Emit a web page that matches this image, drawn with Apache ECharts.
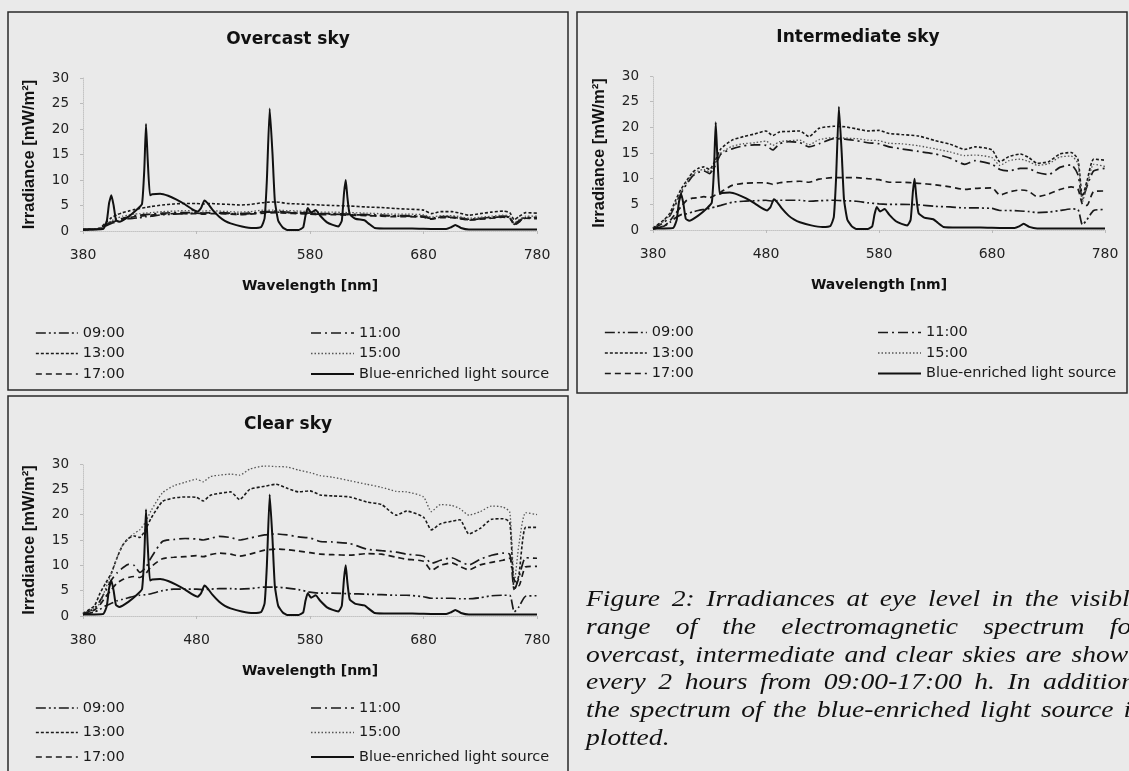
<!DOCTYPE html>
<html>
<head>
<meta charset="utf-8">
<script src="https://cdn.jsdelivr.net/npm/echarts/dist/echarts.min.js"></script>
<style>
html,body{margin:0;padding:0;background:#eaeaea;}
#c{width:1129px;height:771px;}
</style>
</head>
<body>
<div id="c"></div>
<script>
// ---------------- DATA ----------------
const panelTitles = ['Overcast sky', 'Intermediate sky', 'Clear sky'];
const seriesNames = ['09:00', '11:00', '13:00', '15:00', '17:00', 'Blue-enriched light source'];
const wavelengthTicks = [380, 480, 580, 680, 780];
const irradianceTicks = [0, 5, 10, 15, 20, 25, 30];
const xAxisName = 'Wavelength [nm]';
const yAxisName = 'Irradiance [mW/m\u00B2]';

// daylight spectra sampling wavelengths (nm)
const dayWl = [380,390,395,400,405,410,415,420,425,430, 435,440,450,460,470,480,486,492,500,510,
  518,527,540,550,560,570,580,589,600,615, 630,643,656,665,680,687,695,705,712,720,
  730,740,750,756,760,764,770,780];

const overcast0900 = [0.2,0.3,0.4,1.0,1.5,1.8,2.1,2.4,2.5,2.6, 2.8,2.9,3.2,3.3,3.4,3.5,3.4,3.5,3.5,3.4,
  3.3,3.4,3.7,3.7,3.6,3.5,3.4,3.3,3.3,3.2, 3.1,3.0,2.9,2.9,2.8,2.4,2.7,2.7,2.5,2.2, 2.4,2.6,2.8,2.6,1.3,1.8,2.6,2.5];
const overcast1100 = [0.3,0.4,0.5,1.2,1.8,2.2,2.5,2.8,3.0,3.1, 3.2,3.3,3.5,3.6,3.6,3.6,3.5,3.6,3.6,3.5,
  3.4,3.5,3.8,3.9,3.7,3.6,3.5,3.4,3.4,3.3, 3.2,3.1,3.0,3.0,2.9,2.5,2.8,2.8,2.6,2.3, 2.5,2.7,2.9,2.7,1.4,2.0,2.7,2.7];
const overcast1300 = [0.3,0.4,0.6,1.6,2.6,3.2,3.6,3.9,4.2,4.4, 4.6,4.8,5.1,5.3,5.4,5.4,5.3,5.4,5.3,5.2,
  5.1,5.2,5.6,5.7,5.4,5.3,5.2,5.1,5.0,4.9, 4.7,4.6,4.4,4.3,4.1,3.4,3.8,3.8,3.5,3.1, 3.4,3.7,3.9,3.6,2.2,2.8,3.6,3.5];
const overcast1500 = [0.3,0.4,0.6,1.3,2.0,2.5,2.9,3.1,3.3,3.4, 3.5,3.6,3.8,3.9,4.0,4.0,3.9,4.0,3.9,3.8,
  3.7,3.8,4.1,4.1,4.0,3.9,3.8,3.7,3.7,3.6, 3.5,3.4,3.3,3.3,3.2,2.7,3.0,3.0,2.8,2.5, 2.7,2.9,3.1,2.9,1.6,2.2,2.9,2.9];
const overcast1700 = [0.2,0.3,0.5,1.2,1.7,2.0,2.3,2.6,2.8,2.9, 3.0,3.1,3.3,3.4,3.4,3.4,3.3,3.4,3.4,3.3,
  3.2,3.3,3.5,3.6,3.5,3.4,3.3,3.2,3.2,3.1, 3.0,2.9,2.8,2.8,2.7,2.3,2.6,2.6,2.4,2.1, 2.3,2.5,2.7,2.5,1.2,1.7,2.5,2.4];

const intermediate0900 = [0.2,0.8,1.5,2.4,3.0,3.2,3.5,3.8,4.0,4.2, 4.5,4.8,5.4,5.6,5.7,5.8,5.6,5.8,5.8,5.8,
  5.6,5.7,5.8,5.7,5.6,5.3,5.1,5.0,5.0,4.9, 4.6,4.5,4.3,4.3,4.2,3.8,3.8,3.7,3.6,3.4, 3.5,3.8,4.1,4.0,1.0,2.0,3.8,4.0];
const intermediate1100 = [0.3,1.5,2.8,5.0,7.2,9.0,10.5,11.2,11.5,11.0, 12.5,14.8,15.8,16.4,16.6,16.5,15.6,16.8,17.2,17.0,
  16.2,16.8,17.8,17.7,17.4,17.0,16.8,16.2,15.8,15.3, 14.8,14.0,12.8,13.5,12.8,11.8,11.5,12.0,12.0,11.2, 10.8,12.2,12.7,10.8,6.0,8.5,11.5,12.0];
const intermediate1300 = [0.4,2.0,3.3,5.8,8.0,9.7,11.2,12.0,12.3,11.8, 13.5,15.8,17.5,18.2,18.7,19.3,18.4,19.1,19.2,19.3,
  18.2,19.8,20.2,20.1,19.7,19.3,19.4,18.8,18.6,18.3, 17.4,16.7,15.7,16.2,15.6,13.3,14.3,14.8,14.2,13.0, 13.3,14.8,15.1,13.8,6.5,9.5,13.8,13.6];
const intermediate1500 = [0.4,1.8,3.0,5.2,7.5,9.3,10.8,11.5,11.8,11.3, 13.0,15.0,16.3,16.8,17.0,17.3,16.5,17.2,17.4,17.5,
  16.6,17.6,18.0,17.9,17.8,17.5,17.4,16.9,16.8,16.4, 15.8,15.2,14.5,14.6,14.1,12.6,13.5,13.8,13.4,12.6, 12.9,14.2,14.4,13.0,5.5,8.5,12.8,12.4];
const intermediate1700 = [0.2,0.8,1.8,3.2,4.6,5.8,6.2,6.3,6.5,6.3, 6.8,7.4,8.7,9.1,9.2,9.2,8.9,9.2,9.4,9.5,
  9.3,9.9,10.2,10.2,10.2,10.0,9.8,9.3,9.3,9.1, 8.8,8.4,7.9,8.1,8.2,6.8,7.4,7.8,7.6,6.5, 7.0,7.9,8.4,8.0,5.0,4.8,7.5,7.6];

const clear0900 = [0.3,0.8,1.3,2.0,2.5,3.0,3.3,3.6,3.9,4.1, 4.2,4.4,5.0,5.3,5.3,5.3,5.2,5.3,5.4,5.4,
  5.3,5.4,5.7,5.7,5.5,5.2,4.7,4.5,4.5,4.4, 4.3,4.2,4.1,4.1,3.8,3.5,3.5,3.5,3.4,3.4, 3.6,4.0,4.1,4.1,0.8,1.8,3.9,4.0];
const clear1100 = [0.4,1.5,3.0,5.0,7.1,8.5,9.5,10.2,10.0,8.6, 9.5,11.5,14.7,15.1,15.3,15.2,15.0,15.3,15.7,15.5,
  15.0,15.4,16.0,16.2,16.0,15.6,15.4,14.7,14.6,14.3, 13.2,12.9,12.6,12.2,11.8,10.4,11.0,11.5,10.8,10.1, 11.2,12.0,12.4,12.2,5.1,7.5,11.5,11.4];
const clear1300 = [0.5,2.0,4.5,6.5,8.5,11.5,14.0,15.3,15.8,15.5, 17.0,19.3,22.6,23.3,23.5,23.4,22.7,23.8,24.2,24.5,
  23.0,25.0,25.6,26.0,25.2,24.5,24.7,23.9,23.7,23.5, 22.5,22.0,19.9,20.7,19.5,17.0,18.2,18.7,19.0,16.2, 17.3,19.1,19.2,18.5,5.1,8.0,17.5,17.5];
const clear1500 = [0.5,1.5,2.5,5.5,8.3,11.5,14.0,15.3,16.3,17.0, 18.5,20.8,24.3,25.7,26.4,27.0,26.5,27.5,27.8,28.0,
  27.8,29.0,29.6,29.5,29.4,28.8,28.3,27.7,27.4,26.7, 26.0,25.4,24.6,24.5,23.5,20.6,22.0,21.8,21.2,19.9, 20.6,21.7,21.5,20.5,6.5,14.0,20.4,20.0];
const clear1700 = [0.3,1.2,2.2,3.8,5.2,6.5,7.2,7.6,7.8,7.6, 8.3,9.7,11.3,11.6,11.7,11.9,11.7,12.1,12.4,12.2,
  11.8,12.2,13.0,13.2,13.1,12.8,12.5,12.2,12.1,12.0, 12.3,12.2,11.6,11.2,10.8,9.0,10.0,10.5,9.8,9.1, 10.1,10.6,11.0,11.4,7.1,6.0,9.7,9.8];

// blue-enriched light source (same in every panel)
const lampWl = [380,390,398,401,403,405,407,409,412,420, 428,432,434,435.5,437,439,441,448,455,462,
  470,476,481,484,487,490,494,500,505,510, 520,530,537,540,542,544.5,547,549,552,556,
  560,570,574,576,578,581,585,589,595,600, 605,608,610,611.5,613,615,620,628,632,637,
  650,670,690,700,704,708,713,720,740,780];
const lampVal = [0.3,0.3,0.4,2.0,5.5,7.0,5.0,2.2,1.8,2.8, 4.3,5.3,12.0,21.0,14.0,7.0,7.2,7.3,6.9,6.2,
  5.2,4.3,3.8,4.5,6.0,5.4,4.2,2.8,2.0,1.5, 0.9,0.6,0.8,2.5,10.0,24.0,15.0,6.0,2.0,0.7,
  0.2,0.2,0.7,3.0,4.5,3.6,4.1,3.0,1.7,1.2, 0.9,2.0,7.5,10.0,6.5,3.3,2.4,2.1,1.4,0.6,
  0.5,0.5,0.4,0.4,0.7,1.2,0.6,0.3,0.3,0.3];

const captionLines = [
  'Figure 2: Irradiances at eye level in the visible',
  'range of the electromagnetic spectrum for',
  'overcast, intermediate and clear skies are shown',
  'every 2 hours from 09:00-17:00 h. In addition,',
  'the spectrum of the blue-enriched light source is',
  'plotted.'
];

const panelDay = [
  [overcast0900, overcast1100, overcast1300, overcast1500, overcast1700],
  [intermediate0900, intermediate1100, intermediate1300, intermediate1500, intermediate1700],
  [clear0900, clear1100, clear1300, clear1500, clear1700]
];

// ---------------- STYLE / LAYOUT ----------------
const lineStyles = {
  '09:00': {color: '#1a1a1a', width: 1.7, type: [10, 3, 2, 3, 2, 3]},
  '11:00': {color: '#1a1a1a', width: 1.7, type: [10, 4, 2, 4]},
  '13:00': {color: '#1a1a1a', width: 1.6, type: [3, 2]},
  '15:00': {color: '#555555', width: 1.3, type: [1.5, 2]},
  '17:00': {color: '#1a1a1a', width: 1.7, type: [6, 4]},
  'Blue-enriched light source': {color: '#111111', width: 2, type: 'solid'}
};
const grids = [
  {left: 83, top: 78, width: 454, height: 153},
  {left: 653, top: 76, width: 452, height: 154},
  {left: 83, top: 464, width: 454, height: 152}
];
const titlePos = [[288, 40], [858, 38], [288, 425]];
const boxes = [
  {x: 8, y: 12, width: 560, height: 378},
  {x: 577, y: 12, width: 550, height: 381},
  {x: 8, y: 396, width: 560, height: 390}
];
const legendLayout = [
  {left: 35, top: 325.5, gap: 5.5, w: 42, names: ['09:00', '13:00', '17:00']},
  {left: 310, top: 325.5, gap: 5.5, w: 43, names: ['11:00', '15:00', 'Blue-enriched light source']},
  {left: 604, top: 325, gap: 5.5, w: 42, names: ['09:00', '13:00', '17:00']},
  {left: 877, top: 325, gap: 5.5, w: 43, names: ['11:00', '15:00', 'Blue-enriched light source']},
  {left: 35, top: 700.5, gap: 9.5, w: 42, names: ['09:00', '13:00', '17:00']},
  {left: 310, top: 700.5, gap: 9.5, w: 43, names: ['11:00', '15:00', 'Blue-enriched light source']}
];
const sans = '"DejaVu Sans", sans-serif';

// ---------------- BUILD ----------------
function zip(xs, ys) { return xs.map((x, i) => [x, ys[i]]); }

const xAxes = [], yAxes = [], series = [];
grids.forEach((g, p) => {
  xAxes.push({
    gridIndex: p, type: 'value', min: wavelengthTicks[0], max: wavelengthTicks[wavelengthTicks.length - 1], interval: 100,
    name: xAxisName, nameLocation: 'middle', nameGap: 48,
    nameTextStyle: {fontFamily: sans, fontWeight: 'bold', fontSize: 14, color: '#111'},
    axisLine: {show: true, onZero: false, lineStyle: {color: '#c4c4c4', width: 1, type: 'dotted'}},
    axisTick: {show: true, length: 3, lineStyle: {color: '#bbbbbb'}},
    axisLabel: {margin: 17, fontFamily: sans, fontSize: 14, color: '#222', customValues: wavelengthTicks},
    splitLine: {show: false}
  });
  yAxes.push({
    gridIndex: p, type: 'value', min: irradianceTicks[0], max: irradianceTicks[irradianceTicks.length - 1], interval: 5,
    name: yAxisName, nameLocation: 'middle', nameGap: 45,
    nameTextStyle: {fontFamily: '"Liberation Sans", Arial, sans-serif', fontWeight: 'bold', fontSize: 16.5, color: '#111'},
    axisLine: {show: true, lineStyle: {color: '#c4c4c4', width: 1, type: 'dotted'}},
    axisTick: {show: true, length: 3, lineStyle: {color: '#bbbbbb'}},
    axisLabel: {margin: 14, fontFamily: sans, fontSize: 13.5, color: '#222', customValues: irradianceTicks},
    splitLine: {show: false}
  });
  panelDay[p].forEach((vals, k) => {
    const nm = seriesNames[k];
    series.push({
      name: nm, type: 'line', xAxisIndex: p, yAxisIndex: p,
      data: zip(dayWl, vals), symbol: 'none', smooth: 0.2,
      lineStyle: lineStyles[nm], silent: true, animation: false
    });
  });
  const ln = seriesNames[5];
  series.push({
    name: ln, type: 'line', xAxisIndex: p, yAxisIndex: p,
    data: zip(lampWl, lampVal), symbol: 'none', smooth: 0.15,
    lineStyle: lineStyles[ln], silent: true, animation: false, z: 3
  });
});

const legends = legendLayout.map(L => ({
  orient: 'vertical', left: L.left, top: L.top, itemGap: L.gap, padding: 0,
  itemWidth: L.w, itemHeight: 14, selectedMode: false,
  textStyle: {fontFamily: sans, fontSize: 14.5, color: '#1a1a1a'},
  itemStyle: {opacity: 0},
  data: L.names.map(n => ({
    name: n,
    itemStyle: {opacity: 0},
    lineStyle: {color: lineStyles[n].color, width: lineStyles[n].width, type: lineStyles[n].type, opacity: 1}
  }))
}));

// caption (justified text, scanned page look)
const capFamily = '"Liberation Serif", "Times New Roman", serif';
const capSize = 24;
const capFont = 'italic ' + capSize + 'px ' + capFamily;
const capScale = 1.15, capLeft = 586, capRight = 1142, capTop = 600, capLead = 27.7;
const mctx = document.createElement('canvas').getContext('2d');
mctx.font = capFont;
const capChildren = [];
captionLines.forEach((line, i) => {
  const y = capTop + i * capLead;
  const words = line.split(' ');
  const widths = words.map(w => mctx.measureText(w).width);
  const natural = widths.reduce((a, b) => a + b, 0);
  const spaceW = mctx.measureText(' ').width;
  const target = (capRight - capLeft) / capScale;
  let gap = spaceW;
  if (i < captionLines.length - 1 && words.length > 1) gap = (target - natural) / (words.length - 1);
  let x = 0;
  words.forEach((w, j) => {
    capChildren.push({
      type: 'text', x: x, y: y, silent: true,
      style: {text: w, font: capFont, fontFamily: capFamily, fontStyle: 'italic', fontSize: capSize,
        fill: '#111', align: 'left', textAlign: 'left', verticalAlign: 'middle', textVerticalAlign: 'middle'}
    });
    x += widths[j] + gap;
  });
});

const graphics = [];
boxes.forEach(b => graphics.push({
  type: 'rect', silent: true, shape: {x: b.x, y: b.y, width: b.width, height: b.height},
  style: {fill: 'none', stroke: '#2a2a2a', lineWidth: 1.5}
}));
panelTitles.forEach((t, i) => graphics.push({
  type: 'text', x: titlePos[i][0], y: titlePos[i][1], silent: true,
  style: {text: t, font: 'bold 17px ' + sans, fill: '#111', align: 'center', textAlign: 'center', verticalAlign: 'middle', textVerticalAlign: 'middle'}
}));
graphics.push({type: 'group', x: capLeft, y: 0, scaleX: capScale, scaleY: 1, children: capChildren});

const chart = echarts.init(document.getElementById('c'), null, {renderer: 'canvas', width: 1129, height: 771});
chart.setOption({
  backgroundColor: '#eaeaea',
  animation: false,
  grid: grids.map(g => Object.assign({containLabel: false, outerBoundsMode: 'none'}, g)),
  xAxis: xAxes,
  yAxis: yAxes,
  legend: legends,
  series: series,
  graphic: graphics
});
</script>
</body>
</html>
